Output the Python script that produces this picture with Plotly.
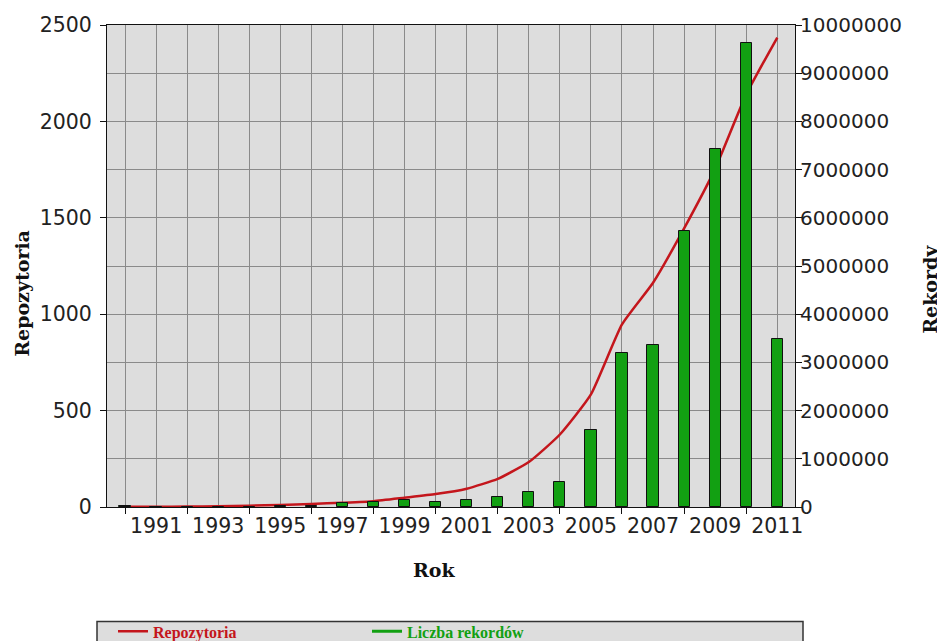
import plotly.graph_objects as go

years = list(range(1990, 2012))
repozytoria = [1, 1, 2, 4, 7, 11, 16, 22, 30, 48, 67, 95, 146, 233, 376, 584,
               947, 1163, 1445, 1755, 2140, 2435]
rekordy = [30000, 10000, 10000, 10000, 10000, 25000, 25000, 77000, 100000, 145000,
           110000, 145000, 210000, 310000, 510000, 1600000, 3190000, 3370000,
           5730000, 7420000, 9630000, 3480000]
label_years = list(range(1991, 2012, 2))
tick_years = list(range(1990, 2012, 2))

RED = "#c4161c"
GREEN = "#12a012"

# page body has an 8px margin: work in screenshot coordinates, shift by OFF
OFF = 8
W, H = 945 - OFF, 641 - OFF
PL, PR, PT, PB = 107, 795, 25, 507.5   # plot area in screenshot pixels
L = PL - OFF
T = PT - OFF
R = W - (PR - OFF)
B = H - (PB - OFF)
pw = PR - PL
ph = PB - PT

def px_x(x):
    return (x - PL) / pw

def px_y(y):
    return (PB - y) / ph

fig = go.Figure()
fig.add_trace(go.Scatter(
    x=years, y=repozytoria, mode="lines", yaxis="y",
    line=dict(color=RED, width=2.5, shape="spline", smoothing=0.5),
    name="<span style='color:#c4161c'><b>Repozytoria</b></span>",
))
fig.add_trace(go.Bar(
    x=years, y=rekordy, yaxis="y2", width=0.36,
    marker=dict(color=GREEN, line=dict(color="#111111", width=1)),
    showlegend=False, name="Liczba rekordów",
))
fig.add_trace(go.Scatter(
    x=[None], y=[None], mode="lines", yaxis="y2",
    line=dict(color=GREEN, width=3),
    name="<span style='color:#12a012'><b>Liczba rekordów</b></span>",
))

tickfont = dict(family="DejaVu Sans", size=20.5, color="#222222")
tickfont_r = dict(family="DejaVu Sans", size=20, color="#222222")
gridc = "#8a8a8a"

fig.update_layout(
    width=W, height=H,
    margin=dict(l=L, r=R, t=T, b=B, autoexpand=False),
    paper_bgcolor="white",
    plot_bgcolor="#dddddd",
    bargap=0,
    xaxis=dict(
        range=[1989.42, 2011.57],
        tickmode="array", tickvals=label_years, ticktext=[str(y) for y in label_years],
        ticks="", showgrid=True, gridcolor=gridc, gridwidth=1,
        minor=dict(tickmode="array", tickvals=tick_years, ticks="outside",
                   ticklen=6, tickcolor="#111111", showgrid=True,
                   gridcolor=gridc, gridwidth=1),
        showline=True, linecolor="#111111", linewidth=1.2, mirror=True,
        tickfont=tickfont, zeroline=False,
    ),
    yaxis=dict(
        range=[0, 2500], tickmode="linear", tick0=0, dtick=500,
        ticks="outside", ticklen=6, tickcolor="#111111",
        showgrid=True, gridcolor=gridc, gridwidth=1,
        minor=dict(dtick=250, showgrid=True, gridcolor=gridc, gridwidth=1, ticks=""),
        showline=True, linecolor="#111111", linewidth=1.2,
        tickfont=tickfont, zeroline=False, ticklabelstandoff=4,
    ),
    yaxis2=dict(
        range=[0, 10000000], tickmode="linear", tick0=0, dtick=1000000,
        overlaying="y", side="right", tickformat="d",
        ticks="outside", ticklen=6, tickcolor="#111111",
        showgrid=False, showline=True, linecolor="#111111", linewidth=1.2,
        tickfont=tickfont_r, zeroline=False, ticklabelstandoff=-6,
    ),
    legend=dict(
        orientation="h", x=px_x(113), y=px_y(615), xanchor="left", yanchor="top",
        bgcolor="rgba(0,0,0,0)", borderwidth=0,
        font=dict(family="Liberation Serif", size=16),
        entrywidth=209, itemwidth=30,
    ),
    shapes=[dict(
        type="rect", xref="paper", yref="paper", layer="below",
        x0=px_x(97), x1=px_x(803), y0=px_y(660), y1=px_y(622),
        fillcolor="#dddddd", line=dict(color="#333333", width=1.5),
    )],
    annotations=[
        dict(text="<b>Repozytoria</b>", xref="paper", yref="paper",
             x=px_x(22), y=px_y(294), textangle=-90, showarrow=False,
             font=dict(family="DejaVu Serif", size=19, color="#111111"),
             xanchor="center", yanchor="middle"),
        dict(text="<b>Rekordy</b>", xref="paper", yref="paper",
             x=px_x(930), y=px_y(290), textangle=-90, showarrow=False,
             font=dict(family="DejaVu Serif", size=19, color="#111111"),
             xanchor="center", yanchor="middle"),
        dict(text="<b>Rok</b>", xref="paper", yref="paper",
             x=px_x(434), y=px_y(571), showarrow=False,
             font=dict(family="DejaVu Serif", size=19, color="#111111"),
             xanchor="center", yanchor="middle"),
    ],
)

fig.write_html("out.html")
